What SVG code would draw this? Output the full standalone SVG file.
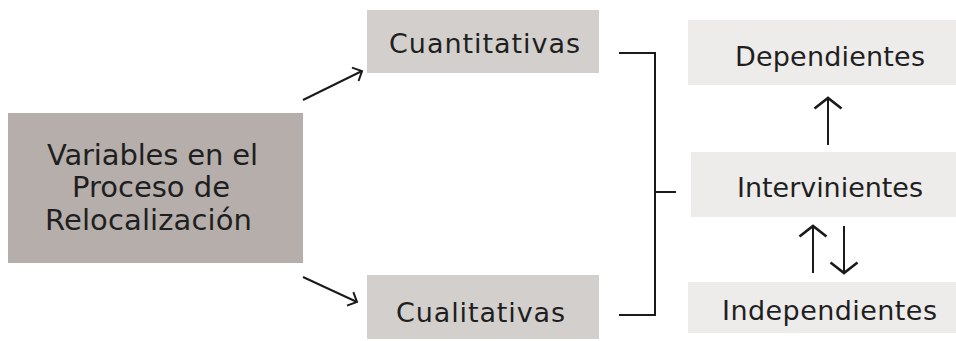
<svg xmlns="http://www.w3.org/2000/svg" width="956" height="341" viewBox="0 0 956 341">
<style>
.t{font-family:"DejaVu Sans","Liberation Sans",sans-serif;fill:#1f1f1f;}
.big{font-size:29px;}
.sm{font-size:27px;}
.c{stroke:#1a1a1a;fill:none;stroke-width:2;}
</style>
<defs>
<marker id="ah" markerUnits="userSpaceOnUse" markerWidth="36" markerHeight="36" viewBox="-18 -18 36 36" refX="0" refY="0" orient="auto">
<path d="M-10.5,-13.5 L0,0 L-10.5,13.5" fill="none" stroke="#1a1a1a" stroke-width="2.6" stroke-linejoin="miter"/>
</marker>
<marker id="ahs" markerUnits="userSpaceOnUse" markerWidth="24" markerHeight="24" viewBox="-12 -12 24 24" refX="0" refY="0" orient="auto">
<path d="M-7.5,-7.5 L0,0 L-7.5,7.5" fill="none" stroke="#1a1a1a" stroke-width="2"/>
</marker>
</defs>
<rect width="956" height="341" fill="#ffffff"/>
<g id="main">
<rect x="8" y="113" width="295" height="150" fill="#b5aeab"/>
<text class="t big" x="47" y="165" textLength="211" lengthAdjust="spacing">Variables en el</text>
<text class="t big" x="72" y="197" textLength="158" lengthAdjust="spacing">Proceso de</text>
<text class="t big" x="45" y="230" textLength="207" lengthAdjust="spacing">Relocalización</text>
</g>
<g id="cuantitativas">
<rect x="367" y="10" width="232" height="63" fill="#d3cfcc"/>
<text class="t sm" x="389" y="53" textLength="191" lengthAdjust="spacing">Cuantitativas</text>
</g>
<g id="cualitativas">
<rect x="367" y="275" width="232" height="64" fill="#d3cfcc"/>
<text class="t sm" x="396" y="322" textLength="169" lengthAdjust="spacing">Cualitativas</text>
</g>
<g id="dependientes">
<rect x="688" y="20" width="268" height="65" fill="#eeeceb"/>
<text class="t sm" x="735" y="66" textLength="190" lengthAdjust="spacing">Dependientes</text>
</g>
<g id="intervinientes">
<rect x="691" y="152" width="265" height="65" fill="#eeeceb"/>
<text class="t sm" x="737" y="197" textLength="186" lengthAdjust="spacing">Intervinientes</text>
</g>
<g id="independientes">
<rect x="688" y="282" width="268" height="51" fill="#eeeceb"/>
<text class="t sm" x="722" y="320" textLength="215" lengthAdjust="spacing">Independientes</text>
</g>
<g id="connectors">
<line class="c" x1="303" y1="100" x2="362" y2="71" stroke-width="1.3" marker-end="url(#ahs)"/>
<line class="c" x1="303" y1="277" x2="357" y2="302" stroke-width="1.3" marker-end="url(#ahs)"/>
<polyline class="c" points="619,53 655,53 655,315 619,315" stroke-width="2"/>
<line class="c" x1="655" y1="192" x2="676" y2="192" stroke-width="2"/>
<line class="c" x1="828" y1="145" x2="828" y2="98" marker-end="url(#ah)"/>
<line class="c" x1="813" y1="273" x2="813" y2="226" marker-end="url(#ah)"/>
<line class="c" x1="844" y1="226" x2="844" y2="273" marker-end="url(#ah)"/>
</g>
</svg>
